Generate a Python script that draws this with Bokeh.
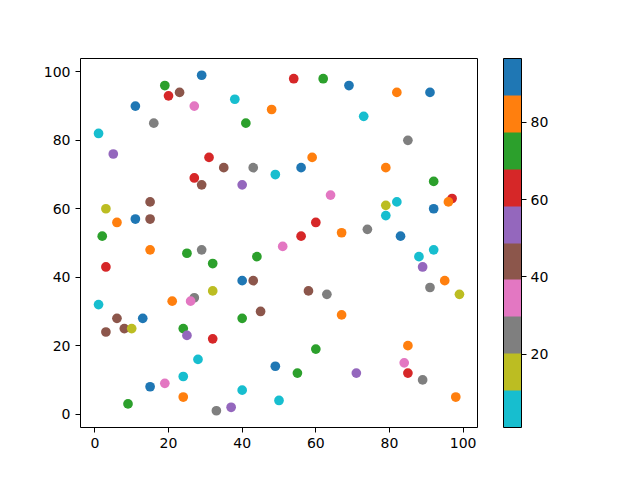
from bokeh.plotting import figure
from bokeh.models import ColumnDataSource, LinearColorMapper, ColorBar, FixedTicker, Range1d
from bokeh.transform import transform
from bokeh.embed import file_html
from bokeh.resources import INLINE

# data
x = [1, 5, 11, 16, 19, 20, 23, 29, 27, 38, 41, 48, 31, 35, 27, 29, 40, 43, 49, 3,
     6, 11, 15, 15, 2, 54, 62, 69, 82, 91, 73, 85, 59, 56, 79, 92, 64, 97, 96, 79,
     82, 79, 92, 60, 56, 67, 74, 83, 3, 15, 25, 29, 32, 44, 51, 1, 21, 27, 26, 32,
     40, 43, 6, 13, 3, 8, 10, 24, 25, 32, 40, 45, 28, 24, 15, 19, 9, 24, 33, 37,
     40, 49, 50, 92, 88, 89, 95, 91, 99, 58, 63, 67, 60, 55, 71, 85, 84, 85, 89, 98]
y = [82, 76, 90, 85, 96, 93, 94, 99, 90, 92, 85, 89, 75, 72, 69, 67, 67, 72, 70, 60,
     56, 57, 62, 57, 52, 98, 98, 96, 94, 94, 87, 80, 75, 72, 72, 68, 64, 63, 62, 61,
     62, 58, 60, 56, 52, 53, 54, 52, 43, 48, 47, 48, 44, 46, 49, 32, 33, 34, 33, 36,
     39, 39, 28, 28, 24, 25, 25, 25, 23, 22, 28, 30, 16, 11, 8, 9, 3, 5, 1, 2,
     7, 14, 4, 48, 46, 43, 39, 37, 35, 36, 35, 29, 19, 12, 12, 20, 15, 12, 10, 5]
c = [5, 53, 92, 25, 72, 63, 44, 92, 34, 5, 72, 82, 63, 44, 63, 44, 53, 25, 5, 15,
     82, 92, 44, 44, 72, 63, 72, 92, 82, 92, 5, 25, 82, 92, 82, 72, 34, 63, 82, 15,
     5, 5, 92, 63, 63, 82, 25, 92, 63, 82, 72, 25, 72, 72, 34, 5, 82, 25, 34, 15,
     92, 44, 44, 92, 44, 44, 15, 72, 53, 63, 72, 44, 5, 5, 92, 34, 72, 82, 25, 53,
     5, 92, 5, 5, 5, 53, 82, 25, 15, 44, 25, 82, 72, 72, 53, 82, 34, 63, 25, 82]

c_low, c_high = 1, 96.5
palette = ["#17becf", "#bcbd22", "#7f7f7f", "#e377c2", "#8c564b",
           "#9467bd", "#d62728", "#2ca02c", "#ff7f0e", "#1f77b4"]
axis_ticks = [0, 20, 40, 60, 80, 100]
cbar_ticks = [20, 40, 60, 80]

src = ColumnDataSource(dict(x=x, y=y, c=c))
mapper = LinearColorMapper(palette=palette, low=c_low, high=c_high)

p = figure(width=640, height=480, output_backend="svg", toolbar_location=None,
           x_range=Range1d(-3.9, 103.9), y_range=Range1d(-3.9, 103.9),
           min_border_left=80, min_border_top=58, min_border_bottom=53, min_border_right=163)
p.scatter("x", "y", source=src, size=9.7, fill_color=transform("c", mapper), line_color=None)

p.xgrid.visible = False
p.ygrid.visible = False
p.outline_line_color = "black"
p.outline_line_width = 1
for ax in (p.xaxis, p.yaxis):
    ax.ticker = FixedTicker(ticks=axis_ticks)
    ax.major_label_text_font = "DejaVu Sans"
    ax.major_label_text_font_size = "14px"
    ax.major_label_text_color = "black"
    ax.axis_line_color = None
    ax.major_tick_in = 0
    ax.major_tick_out = 5
    ax.minor_tick_line_color = None
    ax.major_tick_line_color = "black"

cb = ColorBar(color_mapper=mapper, ticker=FixedTicker(ticks=cbar_ticks), width=18, height=369,
              location=(423, 0), padding=0, margin=0, bar_line_color="black", bar_line_width=1,
              major_label_text_font="DejaVu Sans", major_label_text_font_size="14px",
              major_label_text_color="black", major_tick_line_color="black",
              major_tick_in=0, major_tick_out=5, minor_tick_line_color=None,
              background_fill_alpha=0, border_line_color=None, label_standoff=4)
p.add_layout(cb, "center")

open("out.html", "w").write(file_html(p, INLINE))
